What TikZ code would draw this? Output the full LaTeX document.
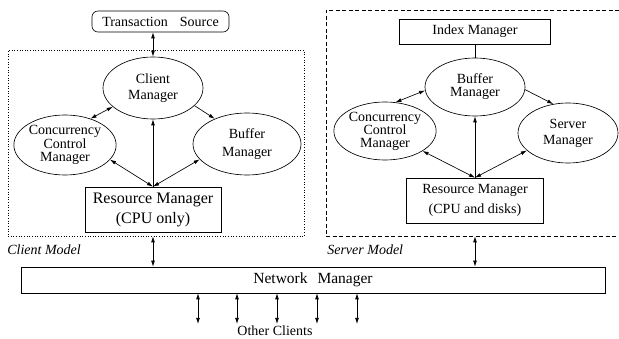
\documentclass[tikz,border=0pt]{standalone}
\usepackage{fontspec}
\setmainfont{Liberation Serif}
\usetikzlibrary{shapes.geometric,arrows.meta}
\tikzset{
  every picture/.style={line width=0.65pt},
  ell/.style={ellipse,draw,inner sep=0pt,minimum width=100pt,minimum height=60pt,align=center},
  boxn/.style={rectangle,draw,inner sep=0pt,align=center},
  tip/.tip={Latex[length=6pt,width=3.8pt]},
  dbl/.style={tip-tip},
  sgl/.style={-tip},
  fs/.style={font=\fontsize{14}{#1}\selectfont},
  lbl/.style={font=\fontsize{14}{16}\selectfont\itshape,anchor=west,inner sep=0pt},
}
\begin{document}
\begin{tikzpicture}[x=1pt,y=-1pt]
\useasboundingbox (0,0) rectangle (619,339);
% frames
\node[draw,dotted,minimum width=296pt,minimum height=186pt,inner sep=0pt] (cbox) at (156,143) {};
\node[draw,dash pattern=on 4pt off 2.5pt,minimum width=300pt,minimum height=226pt,inner sep=0pt] (sbox) at (476,123) {};
% client side
\node[boxn,rounded corners=6pt,minimum width=137pt,minimum height=21pt,fs=16] (ts) at (160.5,21.5) {Transaction\hspace{12pt}Source};
\node[ell,fs=16.5,minimum width=100pt,minimum height=62pt] (cm) at (153,88) {Client\\Manager};
\node[ell,fs=13.5] (ccm) at (65,145) {Concurrency\\Control\\Manager};
\node[ell,fs=18,minimum width=108pt,minimum height=62pt] (bm) at (247,144) {Buffer\\Manager};
\node[boxn,minimum width=136pt,minimum height=45pt,font=\fontsize{16}{20}\selectfont] (rm) at (153,209.5) {Resource Manager\\(CPU only)};
% server side
\node[boxn,minimum width=151pt,minimum height=25pt,fs=16] (im) at (475,31.5) {Index Manager};
\node[ell,fs=13,minimum height=58pt] (sbm) at (475,87) {Buffer\\Manager};
\node[ell,fs=12.5,minimum height=58pt] (sccm) at (385,131) {Concurrency\\Control\\Manager};
\node[ell,fs=16] (ssm) at (568,133) {Server\\Manager};
\node[boxn,minimum width=137pt,minimum height=45pt,fs=20] (srm) at (475,200.5) {Resource Manager\\(CPU and disks)};
% labels
\node[lbl] (cl) at (7,250) {Client Model};
\node[lbl] (sl) at (327,250) {Server Model};
% network
\node[boxn,minimum width=584pt,minimum height=26pt,font=\fontsize{15.5}{18}\selectfont] (nm) at (313,280) {Network\hspace{6pt} Manager};
\node[inner sep=0pt,fs=16] (oc) at (275,331) {Other Clients};
\foreach \i/\x in {1/198,2/237,3/277,4/317,5/357}{
  \coordinate (o\i) at (\x,324);
  \draw[dbl] (nm.south -| o\i) -- (o\i);
}
% client connectors
\draw[dbl] (ts.south -| cm.north) -- (cm.north);
\draw[dbl] (cm.205) -- (ccm.46);
\draw[sgl] (cm.337) -- (bm.142);
\draw[sgl] (rm.north) -- (cm.south);
\draw[dbl] (rm.north) -- (ccm.342);
\draw[dbl] (rm.north) -- (bm.198);
\draw[dbl] (cbox.south -| rm.north) -- (nm.north -| rm.north);
% server connectors
\draw (im.south) -- (sbm.north);
\draw[dbl] (sbm.184) -- (sccm.70);
\draw[sgl] (sbm.357) -- (ssm.117);
\draw[sgl] (srm.north) -- (sbm.south);
\draw[dbl] (srm.north) -- (sccm.332);
\draw[dbl] (srm.north) -- (ssm.203);
\draw[dbl] (sbox.south -| srm.north) -- (nm.north -| srm.north);
\end{tikzpicture}
\end{document}
